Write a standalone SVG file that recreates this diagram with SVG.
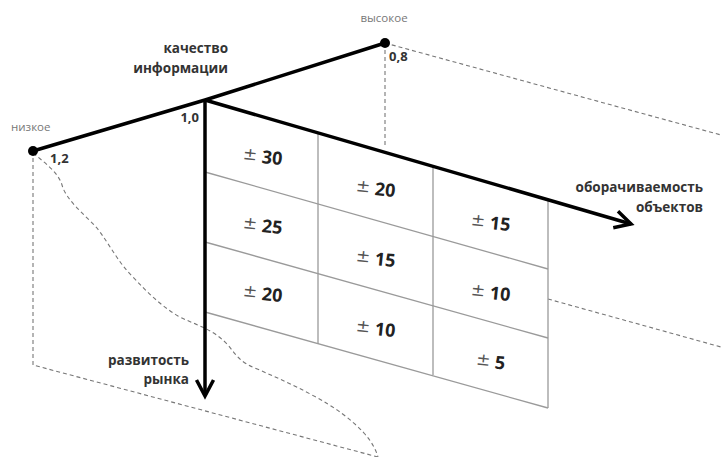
<svg xmlns="http://www.w3.org/2000/svg" width="721" height="457" viewBox="0 0 721 457">
<style>
.axis{stroke:#000;stroke-width:3.5;fill:none;stroke-linejoin:round}
.grid{stroke:#9a9a9a;stroke-width:1.3;fill:none}
.dash{stroke:#777;stroke-width:1.1;fill:none;stroke-dasharray:4 3}
.lbl{font-family:"Open Sans","DejaVu Sans",sans-serif;font-weight:bold;font-size:13.5px;fill:#333}
.num{font-family:"Open Sans","DejaVu Sans",sans-serif;font-weight:bold;font-size:13px;fill:#333}
.small{font-family:"Open Sans","DejaVu Sans",sans-serif;font-size:11.5px;fill:#777}
.val{font-family:"Open Sans","DejaVu Sans",sans-serif;font-weight:bold;font-size:18px;fill:#222}
.pm{font-family:"DejaVu Sans",sans-serif;font-weight:normal;font-size:17px;fill:#555}
</style>
<defs>
<marker id="chev" viewBox="-20 -11 24 22" markerWidth="24" markerHeight="22" refX="0" refY="0" markerUnits="userSpaceOnUse" orient="auto">
<path d="M-16,-8.5 L0,0 L-16,8.5" fill="none" stroke="#000" stroke-width="3.5" stroke-linejoin="miter"/>
</marker>
</defs>
<rect width="721" height="457" fill="#fff"/>
<g id="dashed">
<path class="dash" d="M385,43 L721,135"/>
<path class="dash" d="M385,43 L385,145"/>
<path class="dash" d="M548,299 L721,347"/>
<path class="dash" d="M33,151 L33,365 L378,457"/>
<path class="dash" d="M33,153 C45,163 58,172 62,185 C66,200 85,215 97,228 C110,245 118,262 132,276 C148,293 160,305 178,316 C195,325 212,328 228,345 C236,355 240,362 255,368 C275,377 292,384 312,395 C335,407 352,420 364,433 C372,442 376,450 378,457"/>
</g>
<g id="grid">
<path class="grid" d="M205,172 L548,269"/>
<path class="grid" d="M205,242 L548,338"/>
<path class="grid" d="M205,312 L548,408"/>
<path class="grid" d="M318,133 L318,344"/>
<path class="grid" d="M433,167 L433,375"/>
<path class="grid" d="M548,201 L548,408"/>
</g>
<g id="connectors">
<polyline class="axis" points="33,151 205,100 385,43"/>
<path class="axis" d="M205,100 L205,396" marker-end="url(#chev)"/>
<path class="axis" d="M205,100 L631,224" marker-end="url(#chev)"/>
</g>
<g id="node-low">
<circle cx="33" cy="151" r="5" fill="#000"/>
<text class="small" x="11" y="131">низкое</text>
<text class="num" x="50" y="163" font-size="14">1,2</text>
</g>
<g id="node-high">
<circle cx="385" cy="43" r="5" fill="#000"/>
<text class="small" x="384" y="22" text-anchor="middle">высокое</text>
<text class="num" x="389" y="61">0,8</text>
</g>
<g id="node-origin">
<text class="num" x="199" y="122" text-anchor="end">1,0</text>
</g>
<g id="label-quality">
<text class="lbl" x="228" y="53" text-anchor="end">качество</text>
<text class="lbl" x="228" y="73" text-anchor="end">информации</text>
</g>
<g id="label-turnover">
<text class="lbl" x="703" y="192" text-anchor="end">оборачиваемость</text>
<text class="lbl" x="703" y="212" text-anchor="end">объектов</text>
</g>
<g id="label-market">
<text class="lbl" x="189" y="365" text-anchor="end">развитость</text>
<text class="lbl" x="189" y="384" text-anchor="end">рынка</text>
</g>
<g id="cells">
<text class="val" transform="translate(262,163) rotate(6)" text-anchor="middle"><tspan class="pm" dy="-2">±</tspan><tspan dy="2"> 30</tspan></text>
<text class="val" transform="translate(262,232) rotate(6)" text-anchor="middle"><tspan class="pm" dy="-2">±</tspan><tspan dy="2"> 25</tspan></text>
<text class="val" transform="translate(262,300) rotate(6)" text-anchor="middle"><tspan class="pm" dy="-2">±</tspan><tspan dy="2"> 20</tspan></text>
<text class="val" transform="translate(375,195) rotate(6)" text-anchor="middle"><tspan class="pm" dy="-2">±</tspan><tspan dy="2"> 20</tspan></text>
<text class="val" transform="translate(375,265) rotate(6)" text-anchor="middle"><tspan class="pm" dy="-2">±</tspan><tspan dy="2"> 15</tspan></text>
<text class="val" transform="translate(375,335) rotate(6)" text-anchor="middle"><tspan class="pm" dy="-2">±</tspan><tspan dy="2"> 10</tspan></text>
<text class="val" transform="translate(490,229) rotate(6)" text-anchor="middle"><tspan class="pm" dy="-2">±</tspan><tspan dy="2"> 15</tspan></text>
<text class="val" transform="translate(490,299) rotate(6)" text-anchor="middle"><tspan class="pm" dy="-2">±</tspan><tspan dy="2"> 10</tspan></text>
<text class="val" transform="translate(490,368) rotate(6)" text-anchor="middle"><tspan class="pm" dy="-2">±</tspan><tspan dy="2"> 5</tspan></text>
</g>
</svg>
